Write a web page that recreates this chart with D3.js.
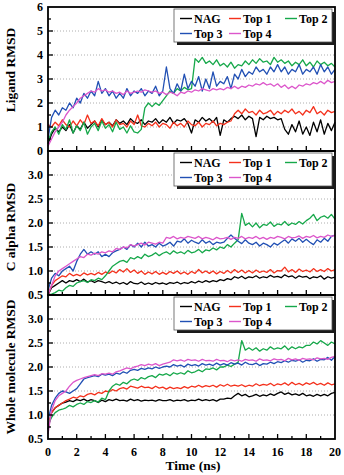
<!DOCTYPE html>
<html>
<head>
<meta charset="utf-8">
<script src="https://cdn.jsdelivr.net/npm/d3@7"></script>
<style>
  body { margin: 0; background: #fff; }
  text { font-family: "Liberation Serif", "Times New Roman", serif; font-weight: bold; }
</style>
</head>
<body>
<svg id="canvas" width="344" height="475"></svg>
<script>
// ---------- data (time step 0.25 ns, 0..20 ns) ----------
let time = d3.range(0, 20.001, 0.25)

let seriesNames = ['NAG', 'Top 1', 'Top 2', 'Top 3', 'Top 4']
let seriesColors = ['#000000', '#f4311c', '#16a84a', '#2150b4', '#dc56cb']

// Ligand RMSD
let ligNag = [0.3,0.7,0.95,0.8,1.0, 0.85,1.1,0.75,1.05, 0.9,1.2,0.95,1.1, 1.25,1.0,1.3,1.1, 1.2,1.05,1.3,1.15,
  1.25,1.1,1.35,1.2, 1.15,1.3,1.1,1.25, 1.2,1.35,1.15,1.3, 1.2,1.4,1.15,1.3, 1.25,1.35,1.15,0.75,
  1.3,1.2,1.4,1.25, 1.35,1.2,1.4,0.65, 1.3,1.2,1.35,1.45, 1.35,1.5,1.3,1.45, 1.35,0.6,1.4,1.3,
  1.45,1.35,1.4,1.3, 1.35,0.9,0.7,1.1, 0.8,1.25,0.7,1.0, 0.65,1.2,0.8,1.3, 0.7,1.15,0.85,1.2]
let ligTop1 = [1.1,1.0,1.2,1.05,1.3, 1.1,1.0,1.25,1.05, 1.3,1.1,1.5,1.15, 1.25,1.05,1.35,1.1, 1.2,1.0,1.3,1.1,
  1.15,1.0,1.25,1.1, 1.5,1.05,1.0,1.15, 1.05,1.2,1.0,1.15, 1.1,0.95,1.2,1.05, 1.15,1.0,1.25,1.1,
  1.05,1.2,1.0,1.15, 1.1,1.25,1.05,1.15, 1.1,1.2,1.25,1.55, 1.7,1.55,1.75,1.6, 1.65,1.5,1.7,1.55,
  1.6,1.7,1.5,1.65, 1.55,1.7,1.6,1.75, 1.55,1.65,1.5,1.7, 1.6,1.85,1.55,1.65, 1.5,1.7,1.6,1.65]
let ligTop2 = [0.4,0.8,1.0,0.7,1.1, 0.9,1.3,0.75,1.05, 0.85,1.2,0.7,1.0, 1.15,0.85,1.25,0.95, 1.1,0.8,1.2,0.9,
  1.0,0.75,1.05,0.8, 0.75,0.9,1.8,2.0, 1.85,2.0,1.9,2.1, 2.3,2.5,2.4,2.6, 2.5,2.65,2.55,2.6,
  3.85,3.7,3.9,3.65, 3.75,3.6,3.8,3.55, 3.65,3.5,3.7,3.45, 3.6,3.55,3.75,3.6, 3.8,3.65,3.85,3.7,
  3.75,3.6,3.9,3.7, 3.8,3.65,3.75,3.55, 3.7,3.6,3.8,3.55, 3.7,3.5,3.75,3.6, 3.7,3.55,3.65,3.5]
let ligTop3 = [0.5,1.4,1.7,1.5,1.8, 1.7,2.0,1.8,2.2, 2.0,2.4,2.2,2.5, 2.3,2.9,2.4,2.6, 2.3,2.5,2.2,2.4,
  2.2,2.6,2.3,2.5, 2.4,2.6,2.3,2.5, 2.4,2.7,2.3,2.5, 3.5,2.6,2.4,2.8, 2.5,3.2,2.6,2.9,
  2.7,3.1,2.5,3.0, 2.6,3.3,2.7,2.9, 2.8,3.1,2.6,3.2, 3.0,3.4,3.1,3.3, 3.2,3.5,3.3,3.4,
  3.2,3.5,3.3,3.6, 3.3,3.5,3.2,3.4, 3.3,3.6,3.2,3.4, 3.3,3.5,3.2,3.6, 3.3,3.5,3.2,3.4]
let ligTop4 = [0.2,0.5,0.8,1.0,1.2, 1.5,1.7,1.85,2.0, 2.2,2.3,2.4,2.5, 2.45,2.6,2.5,2.55, 2.45,2.5,2.4,2.45,
  2.35,2.5,2.4,2.45, 2.5,2.45,2.55,2.5, 2.45,2.5,2.4,2.45, 2.35,2.45,2.4,2.3, 2.45,2.4,2.5,2.45,
  2.55,2.5,2.6,2.55, 2.5,2.6,2.55,2.6, 2.55,2.65,2.6,2.7, 2.6,2.7,2.65,2.75, 2.7,2.8,2.75,2.85,
  2.75,2.8,2.7,2.8, 2.65,2.75,2.6,2.7, 2.6,2.75,2.7,2.8, 2.75,2.85,2.8,2.9, 2.8,2.95,2.85,2.9]

// C alpha RMSD
let caNag = [0.5,0.65,0.7,0.75,0.8, 0.75,0.8,0.78,0.82, 0.78,0.83,0.77,0.8, 0.76,0.8,0.78,0.75, 0.78,0.74,0.77,0.73,
  0.76,0.72,0.78,0.74, 0.73,0.77,0.72,0.75, 0.72,0.76,0.73,0.75, 0.72,0.76,0.74,0.77, 0.73,0.76,0.74,0.78,
  0.75,0.79,0.76,0.8, 0.77,0.8,0.78,0.82, 0.8,0.84,0.82,0.88, 0.85,0.89,0.84,0.88, 0.86,0.9,0.85,0.88,
  0.86,0.91,0.87,0.89, 0.86,0.92,0.88,0.9, 0.85,0.9,0.87,0.89, 0.84,0.88,0.86,0.9, 0.83,0.88,0.85,0.87]
let caTop1 = [0.5,0.7,0.8,0.85,0.9, 0.88,0.95,0.9,0.93, 0.9,0.96,0.92,0.95, 0.92,0.97,0.93,0.98, 0.95,1.0,0.96,1.03,
  0.98,1.05,0.97,1.02, 0.95,1.0,0.93,0.98, 0.94,0.99,0.93,0.97, 0.93,0.99,0.95,1.0, 0.94,0.98,0.93,0.99,
  0.95,1.03,0.96,1.0, 0.95,1.0,0.94,0.99, 0.95,1.01,0.96,1.03, 0.97,1.02,0.96,1.01, 0.96,1.02,0.97,1.0,
  0.97,1.03,0.96,1.01, 1.0,1.08,0.98,1.03, 0.97,1.04,0.99,1.02, 0.98,1.05,0.99,1.03, 0.99,1.05,1.0,1.03]
let caTop2 = [0.5,0.52,0.55,0.6,0.58, 0.65,0.7,0.68,0.75, 0.78,0.8,0.76,0.82, 0.8,0.85,0.82,0.9, 1.0,1.1,1.15,1.2,
  1.22,1.18,1.28,1.25, 1.3,1.26,1.35,1.3, 1.33,1.38,1.32,1.37, 1.4,1.35,1.42,1.37, 1.4,1.36,1.43,1.38,
  1.4,1.45,1.38,1.44, 1.42,1.48,1.44,1.5, 1.47,1.55,1.5,1.58, 1.65,2.2,1.95,2.0, 1.92,2.0,1.9,1.97,
  1.95,2.02,1.93,1.98, 1.96,2.03,1.95,2.0, 1.97,2.03,1.98,2.05, 2.1,2.18,2.05,2.12, 2.15,2.1,2.18,2.08]
let caTop3 = [0.6,0.85,0.95,0.9,1.0, 1.05,1.1,1.0,1.2, 1.35,1.45,1.35,1.4, 1.35,1.4,1.3,1.35, 1.3,1.38,1.42,1.45,
  1.5,1.45,1.55,1.5, 1.58,1.5,1.6,1.52, 1.55,1.5,1.58,1.52, 1.55,1.6,1.52,1.62, 1.6,1.67,1.58,1.64,
  1.6,1.57,1.65,1.58, 1.62,1.55,1.6,1.58, 1.6,1.68,1.75,1.68, 1.62,1.57,1.65,1.58, 1.55,1.6,1.52,1.58,
  1.55,1.5,1.58,1.54, 1.6,1.65,1.58,1.67, 1.62,1.68,1.6,1.66, 1.6,1.55,1.65,1.6, 1.68,1.62,1.72,1.75]
let caTop4 = [0.5,0.7,0.9,1.0,1.05, 1.1,1.15,1.2,1.25, 1.3,1.28,1.35,1.33, 1.37,1.35,1.4,1.38, 1.42,1.4,1.47,1.45,
  1.5,1.48,1.55,1.52, 1.55,1.58,1.54,1.6, 1.58,1.56,1.6,1.58, 1.7,1.68,1.72,1.67, 1.7,1.68,1.72,1.7,
  1.68,1.72,1.67,1.7, 1.68,1.65,1.7,1.67, 1.68,1.7,1.66,1.7, 1.68,1.72,1.67,1.7, 1.68,1.72,1.67,1.7,
  1.66,1.7,1.68,1.72, 1.7,1.67,1.72,1.69, 1.7,1.73,1.68,1.72, 1.7,1.74,1.69,1.72, 1.7,1.75,1.72,1.74]

// Whole molecule RMSD
let whNag = [0.7,1.05,1.15,1.2,1.25, 1.27,1.3,1.28,1.32, 1.3,1.33,1.29,1.32, 1.3,1.26,1.31,1.28, 1.32,1.3,1.33,1.3,
  1.31,1.29,1.33,1.3, 1.32,1.29,1.31,1.3, 1.31,1.29,1.32,1.3, 1.3,1.32,1.29,1.31, 1.3,1.32,1.29,1.31,
  1.3,1.33,1.3,1.32, 1.3,1.32,1.29,1.33, 1.33,1.35,1.34,1.4, 1.45,1.4,1.43,1.38, 1.4,1.43,1.39,1.42,
  1.4,1.44,1.41,1.45, 1.48,1.43,1.46,1.42, 1.44,1.41,1.45,1.4, 1.42,1.39,1.43,1.4, 1.43,1.4,1.45,1.47]
let whTop1 = [0.8,1.05,1.15,1.2,1.25, 1.3,1.33,1.37,1.35, 1.4,1.38,1.43,1.45, 1.42,1.47,1.45,1.5, 1.48,1.53,1.5,1.55,
  1.57,1.54,1.6,1.58, 1.56,1.6,1.57,1.58, 1.55,1.6,1.56,1.58, 1.54,1.58,1.55,1.57, 1.55,1.59,1.56,1.6,
  1.58,1.62,1.58,1.61, 1.59,1.62,1.58,1.63, 1.6,1.64,1.6,1.62, 1.6,1.63,1.59,1.62, 1.6,1.65,1.61,1.64,
  1.62,1.66,1.61,1.65, 1.63,1.67,1.62,1.68, 1.63,1.66,1.62,1.67, 1.64,1.68,1.63,1.66, 1.62,1.67,1.63,1.65]
let whTop2 = [0.8,0.95,1.05,1.1,1.12, 1.15,1.2,1.17,1.22, 1.25,1.22,1.28,1.26, 1.3,1.27,1.35,1.32, 1.5,1.6,1.65,1.62,
  1.68,1.65,1.72,1.75, 1.72,1.78,1.75,1.8, 1.82,1.78,1.85,1.83, 1.86,1.82,1.88,1.85, 1.88,1.85,1.92,1.88,
  1.9,1.94,1.9,1.96, 1.95,1.98,1.94,2.0, 2.0,2.04,2.01,2.06, 2.1,2.55,2.35,2.4, 2.35,2.4,2.33,2.38,
  2.35,2.42,2.37,2.4, 2.38,2.44,2.36,2.42, 2.38,2.42,2.4,2.45, 2.45,2.52,2.48,2.55, 2.5,2.45,2.52,2.48]
let whTop3 = [0.9,1.2,1.35,1.45,1.5, 1.48,1.45,1.5,1.55, 1.65,1.75,1.78,1.8, 1.82,1.8,1.85,1.83, 1.85,1.82,1.87,1.85,
  1.9,1.87,1.93,1.95, 1.93,1.97,1.95,1.98, 1.96,2.0,1.97,2.0, 2.02,2.0,2.05,2.02, 2.04,2.0,2.06,2.03,
  2.05,2.02,2.07,2.04, 2.06,2.03,2.08,2.04, 2.07,2.04,2.09,2.06, 2.08,2.04,2.1,2.06, 2.05,2.08,2.03,2.07,
  2.06,2.1,2.07,2.11, 2.09,2.13,2.1,2.14, 2.12,2.15,2.1,2.14, 2.13,2.17,2.12,2.16, 2.15,2.2,2.14,2.22]
let whTop4 = [0.6,1.1,1.3,1.4,1.45, 1.5,1.6,1.68,1.72, 1.75,1.78,1.8,1.82, 1.84,1.82,1.86,1.85, 1.87,1.85,1.9,1.92,
  1.95,1.98,1.96,2.0, 2.02,2.05,2.03,2.06, 2.04,2.07,2.03,2.06, 2.08,2.1,2.15,2.13, 2.15,2.12,2.16,2.14,
  2.15,2.12,2.16,2.13, 2.14,2.12,2.16,2.13, 2.14,2.11,2.15,2.13, 2.15,2.12,2.16,2.14, 2.15,2.12,2.17,2.14,
  2.15,2.13,2.17,2.15, 2.16,2.13,2.18,2.15, 2.17,2.14,2.18,2.16, 2.17,2.15,2.19,2.17, 2.18,2.16,2.2,2.22]

let panelTitles = ['Ligand RMSD', 'C alpha RMSD', 'Whole molecule RMSD']
let panelDomains = [[0, 6], [0.5, 3.5], [0.5, 3.5]]
let panelTicks = [[0, 1, 2, 3, 4, 5, 6], [0.5, 1.0, 1.5, 2.0, 2.5, 3.0], [0.5, 1.0, 1.5, 2.0, 2.5, 3.0]]
let panelData = [
  [ligNag, ligTop1, ligTop2, ligTop3, ligTop4],
  [caNag, caTop1, caTop2, caTop3, caTop4],
  [whNag, whTop1, whTop2, whTop3, whTop4]
]
let xTicks = [0, 2, 4, 6, 8, 10, 12, 14, 16, 18, 20]

// ---------- drawing ----------
let canvas = d3.select('#canvas')
let left = 48, right = 335, panelH = 144, firstTop = 7

let xScale = d3.scaleLinear().domain([0, 20]).range([left, right])

panelData.forEach((series, p) => {
  let top = firstTop + p * panelH
  let bottom = top + panelH
  let dom = panelDomains[p]
  let yScale = d3.scaleLinear().domain(dom).range([bottom, top])
  let g = canvas.append('g')
  let step = panelTicks[p][1] - panelTicks[p][0]

  // dotted grid
  g.selectAll('.grid')
    .data(panelTicks[p].filter(v => v > dom[0] && v < dom[1]))
    .enter().append('line')
    .attr('x1', left).attr('x2', right)
    .attr('y1', d => yScale(d)).attr('y2', d => yScale(d))
    .attr('stroke', '#9a9a9a').attr('stroke-width', 0.8)
    .attr('stroke-dasharray', '1,2')

  // lines
  let line = d3.line()
    .x((d, i) => xScale(time[i]))
    .y(d => yScale(d))
  series.forEach((vals, s) => {
    g.append('path')
      .datum(vals)
      .attr('d', line)
      .attr('fill', 'none')
      .attr('stroke', seriesColors[s])
      .attr('stroke-width', 1.3)
      .attr('stroke-linejoin', 'round')
  })

  // x ticks (inward, every 1 ns, longer at even)
  g.selectAll('.xt')
    .data(d3.range(1, 20, 1))
    .enter().append('line')
    .attr('x1', d => xScale(d)).attr('x2', d => xScale(d))
    .attr('y1', bottom).attr('y2', d => bottom - (d % 2 === 0 ? 5 : 3))
    .attr('stroke', '#000').attr('stroke-width', 1.3)

  // y ticks (inward)
  let minor = d3.range(dom[0] + step / 2, dom[1], step / 2)
  g.selectAll('.yt')
    .data(minor)
    .enter().append('line')
    .attr('x1', left).attr('x2', (d, i) => left + (i % 2 === 0 ? 3 : 5))
    .attr('y1', d => yScale(d)).attr('y2', d => yScale(d))
    .attr('stroke', '#000').attr('stroke-width', 1.3)

  // y tick labels
  g.selectAll('.yl')
    .data(panelTicks[p])
    .enter().append('text')
    .attr('x', 43).attr('y', d => yScale(d) + 4)
    .attr('text-anchor', 'end')
    .attr('font-size', 12)
    .text(d => p === 0 ? d3.format('d')(d) : d3.format('.1f')(d))

  // frame
  g.append('rect')
    .attr('x', left).attr('y', top)
    .attr('width', right - left).attr('height', panelH)
    .attr('fill', 'none').attr('stroke', '#000').attr('stroke-width', 1.8)

  // legend with shadow
  let lx = 174, ly = top + 2, lw = 158, lh = 33
  g.append('rect').attr('x', lx + 3).attr('y', ly + 3).attr('width', lw).attr('height', lh).attr('fill', '#1a1a1a')
  g.append('rect').attr('x', lx).attr('y', ly).attr('width', lw).attr('height', lh)
    .attr('fill', '#fff').attr('stroke', '#555').attr('stroke-width', 0.8)
  let colX = [180, 229, 285]
  seriesNames.forEach((name, s) => {
    let cx = colX[s % 3]
    let cy = ly + (s < 3 ? 9.5 : 24.5)
    g.append('line').attr('x1', cx).attr('x2', cx + 12).attr('y1', cy).attr('y2', cy)
      .attr('stroke', seriesColors[s]).attr('stroke-width', 1.4)
    g.append('text').attr('x', cx + 14).attr('y', cy + 4).attr('font-size', 12).text(name)
  })

  // y title
  let titleY = [70, 227, 367][p]
  canvas.append('text')
    .attr('transform', 'translate(15,' + titleY + ') rotate(-90)')
    .attr('text-anchor', 'middle')
    .attr('font-size', 13.5)
    .text(panelTitles[p])
})

// x tick labels
canvas.selectAll('.xl')
  .data(xTicks)
  .enter().append('text')
  .attr('x', d => xScale(d)).attr('y', 456)
  .attr('text-anchor', 'middle')
  .attr('font-size', 12)
  .text(d => d)

canvas.append('text')
  .attr('x', 193).attr('y', 470)
  .attr('text-anchor', 'middle')
  .attr('font-size', 13.5)
  .text('Time (ns)')
</script>
</body>
</html>
